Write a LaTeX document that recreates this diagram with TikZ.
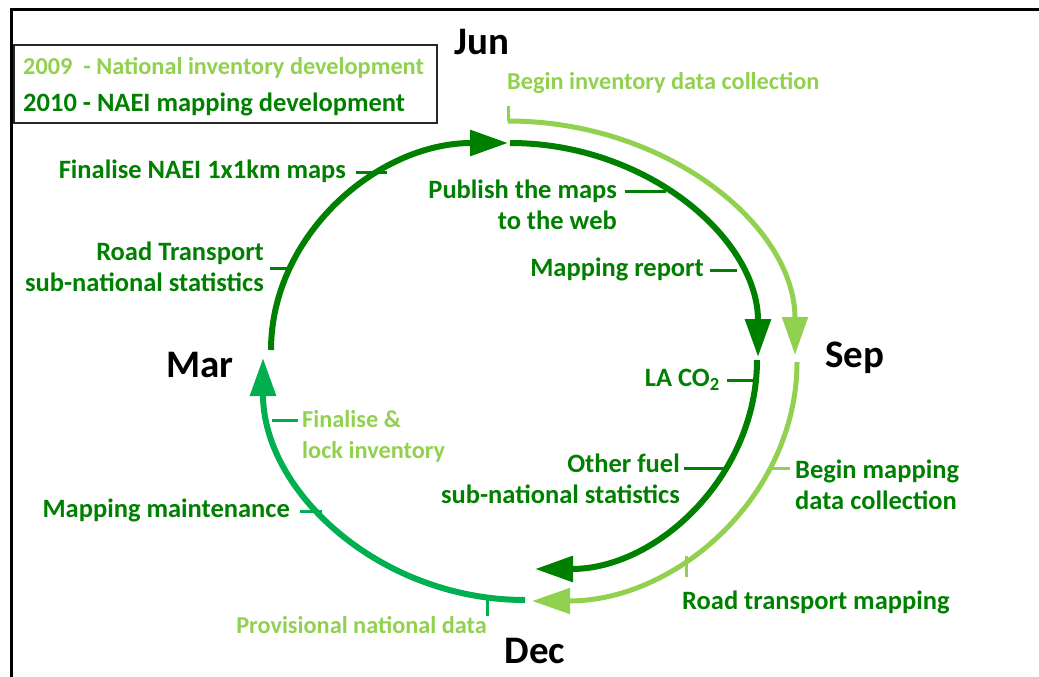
\documentclass[tikz,border=0pt]{standalone}
\usepackage{fontspec}
\setmainfont{Carlito}
\usetikzlibrary{arrows.meta}
\definecolor{darkg}{RGB}{0,128,0}
\definecolor{lightg}{RGB}{146,208,80}
\definecolor{midg}{RGB}{0,176,80}
\begin{document}
\begin{tikzpicture}[x=1pt,y=-1pt,
	lbl/.style={font=\fontsize{26.5}{31}\selectfont\bfseries, inner sep=0pt, text=darkg},
	lbllight/.style={font=\fontsize{24.3}{31}\selectfont\bfseries, inner sep=0pt, text=lightg},
	month/.style={font=\fontsize{39}{43}\selectfont\bfseries, inner sep=0pt},
	cyc/.style={line width=6pt, -{Triangle[length=38pt,width=25pt]}},
	tick/.style={line width=3pt}]
	\useasboundingbox (0,0) rectangle (1039,677);
	\draw[line width=3pt] (11.5,677) -- (11.5,9.5) -- (1039,9.5);
	% legend
	\draw[line width=1.5pt, black!85] (14,45) rectangle (437,123);
	\node[lbllight, anchor=west] (y09) at (23,68) {2009\ \ - National inventory development};
	\node[lbl, anchor=west] (y10) at (23,104) {2010 - NAEI mapping development};
	% months
	\node[month] (jun) at (482,42) {Jun};
	\node[month] (mar) at (200,365) {Mar};
	\node[month] (sep) at (855,358) {Sep};
	\node[month] (dec) at (535,651) {Dec};
	% start points of the arcs
	\coordinate (d1) at (271,350);
	\coordinate (d2) at (510,143);
	\coordinate (d3) at (757,360);
	\coordinate (l1) at (508,121);
	\coordinate (l2) at (797,362);
	\coordinate (m1) at (525,600);
	\draw[cyc, darkg] (d1) arc[start angle=180, end angle=270, x radius=237, y radius=207];
	\draw[cyc, darkg] (d2) arc[start angle=270, end angle=360, x radius=248, y radius=214];
	\draw[cyc, darkg] (d3) arc[start angle=0, end angle=90, x radius=222, y radius=209];
	\draw[cyc, lightg, line width=5pt] (l1) arc[start angle=270, end angle=360, x radius=287, y radius=234];
	\draw[cyc, lightg, line width=5pt] (l2) arc[start angle=0, end angle=90, x radius=265, y radius=239];
	\draw[cyc, midg] (m1) arc[start angle=90, end angle=180, x radius=262, y radius=242];
	% labels
	\node[lbllight, anchor=west] (binv) at (507,83) {Begin inventory data collection};
	\node[lbl, anchor=east] (fnaei) at (346,171) {Finalise NAEI 1x1km maps};
	\node[lbl, anchor=east, align=right] (pub) at (617,205) {Publish the maps\\to the web};
	\node[lbl, anchor=east] (mrep) at (704,269) {Mapping report};
	\node[lbl, anchor=east, align=right] (road) at (264,267) {Road Transport\\sub-national statistics};
	\node[lbl, anchor=east] (laco) at (720,380) {LA CO\textsubscript{2}};
	\node[lbl, anchor=east, align=right] (fuel) at (680,479) {Other fuel\\sub-national statistics};
	\node[lbl, anchor=west, align=left] (bmap) at (795,485) {Begin mapping\\data collection};
	\node[lbllight, anchor=west, align=left] (fin) at (302,436) {Finalise \&\\lock inventory};
	\node[lbl, anchor=east] (mmain) at (290,510) {Mapping maintenance};
	\node[lbllight, anchor=east] (prov) at (487,625) {Provisional national data};
	\node[lbl, anchor=west] (rtm) at (682,602) {Road transport mapping};
	% leader ticks
	\coordinate (a1) at (387,172);
	\coordinate (a2) at (666,191);
	\coordinate (a3) at (737,270);
	\coordinate (a4) at (290,268);
	\coordinate (a5) at (756,380);
	\coordinate (a6) at (725,468);
	\coordinate (a7) at (770,468);
	\coordinate (a8) at (272,420);
	\coordinate (a9) at (322,511);
	\coordinate (a10) at (487,597);
	\coordinate (a11) at (686,556);
	\draw[tick, lightg] (l1) -- ([yshift=-12pt]l1 |- binv.south);
	\draw[tick, darkg] (a1 -| fnaei.east) ++(10,0) -- (a1);
	\draw[tick, darkg] (a2 -| pub.east) ++(8,0) -- (a2);
	\draw[tick, darkg] (a3 -| mrep.east) ++(6,0) -- (a3);
	\draw[tick, darkg] (a4 -| road.east) ++(6,0) -- (a4);
	\draw[tick, darkg] (a5 -| laco.east) ++(7,0) -- (a5);
	\draw[tick, darkg] (a6 -| fuel.east) ++(4,0) -- (a6);
	\draw[tick, lightg] (a7) -- ([xshift=-5pt]a7 -| bmap.west);
	\draw[tick, midg] (a8) -- ([xshift=-4pt]a8 -| fin.west);
	\draw[tick, midg] (a9 -| mmain.east) ++(10,0) -- (a9);
	\draw[tick, midg] (a10) -- (a10 |- prov.north);
	\draw[tick, lightg] (a11) -- ([yshift=13pt]a11 |- rtm.north);
\end{tikzpicture}
\end{document}
